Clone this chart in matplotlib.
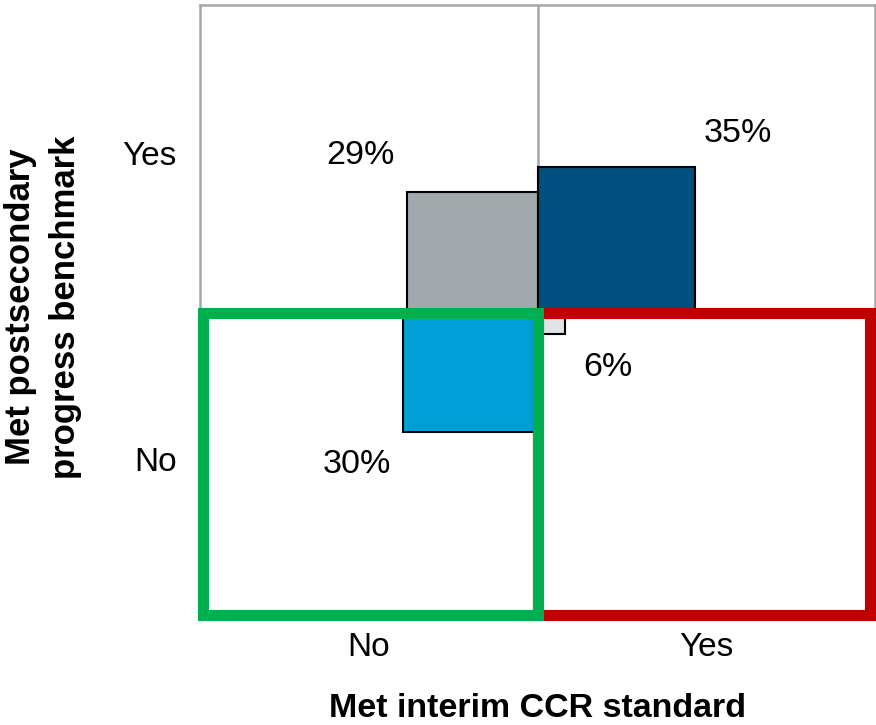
import matplotlib.pyplot as plt
from matplotlib.patches import Rectangle

plt.rcParams['font.family'] = ['Liberation Sans', 'DejaVu Sans']

# share of students in each quadrant (percent)
quad_names = ['CCR no / PS yes', 'CCR yes / PS yes', 'CCR yes / PS no', 'CCR no / PS no']
pct = [29, 35, 6, 30]
pct_labels = ['29%', '35%', '6%', '30%']
tick_labels = ['No', 'Yes']

# layout: which way each square grows from the centre, colours, label spots
dirs = [(-1, 1), (1, 1), (1, -1), (-1, -1)]
colors = ['#a2a9ad', '#00507f', '#e1e4e7', '#009fd7']
label_xy = [(0.474, 1.507), (1.594, 1.579), (1.209, 0.813), (0.465, 0.493)]
scale = 75.0  # percent per unit side

fig = plt.figure(figsize=(8.76, 7.25), dpi=100)
ax = fig.add_axes([200 / 876, 1 - 615.5 / 725, 675 / 876, 611 / 725])
ax.set_xlim(0, 2)
ax.set_ylim(0, 2)

# grid lines
grid_c = '#a6a6a6'
for sp in ax.spines.values():
    sp.set_color(grid_c)
    sp.set_linewidth(1.8)
ax.axvline(1, color=grid_c, lw=1.8, zorder=1)
ax.axhline(1, color=grid_c, lw=1.8, zorder=1)

# squares, side proportional to share
for p, (dx, dy), c in zip(pct, dirs, colors):
    s = p / scale
    ax.bar(1, s * dy, width=s * dx, bottom=1, align='edge',
           color=c, edgecolor='black', linewidth=1.5, zorder=2)

for txt, (x, y) in zip(pct_labels, label_xy):
    ax.text(x, y, txt, ha='center', va='center', fontsize=24.5, zorder=5)

# highlight boxes
ax.add_patch(Rectangle((1.0, 0.003), 0.985, 0.987, fill=False,
                       edgecolor='#c00000', linewidth=8, clip_on=False,
                       joinstyle='miter', zorder=3))
ax.add_patch(Rectangle((0.009, 0.003), 0.991, 0.987, fill=False,
                       edgecolor='#00b050', linewidth=8, clip_on=False,
                       joinstyle='miter', zorder=4))

ax.set_xticks([0.5, 1.5])
ax.set_xticklabels(tick_labels, fontsize=24)
ax.set_yticks([0.513, 1.513])
ax.set_yticklabels(tick_labels, fontsize=24)
ax.tick_params(axis='x', length=0, pad=12)
ax.tick_params(axis='y', length=0, pad=17)

ax.set_xlabel('Met interim CCR standard', fontsize=24.5, fontweight='bold')
ax.xaxis.set_label_coords(0.5, -0.153)
ax.set_ylabel('Met postsecondary\nprogress benchmark', fontsize=25,
              fontweight='bold', linespacing=1.45)
ax.yaxis.set_label_coords(-0.233, 0.505)
ax.yaxis.label.set_va('center')
ax.xaxis.label.set_va('center')

fig.savefig('out.png', dpi=100)
